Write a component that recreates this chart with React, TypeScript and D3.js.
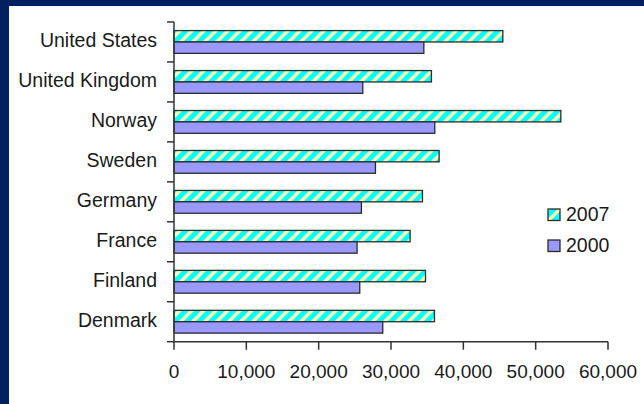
import React from "react";
import * as d3 from "d3";

const countries = [
  "United States",
  "United Kingdom",
  "Norway",
  "Sweden",
  "Germany",
  "France",
  "Finland",
  "Denmark",
];
const seriesNames = ["2007", "2000"];
const values2007 = [45460, 35590, 53480, 36650, 34350, 32640, 34770, 36010];
const values2000 = [34540, 26100, 36050, 27850, 25910, 25310, 25680, 28860];
const xTicks = [0, 10000, 20000, 30000, 40000, 50000, 60000];

const W = 644;
const H = 404;
const FONT = "'Liberation Sans', Arial, sans-serif";
const AXIS = "#333333";

export default function App() {
  const x = d3.scaleLinear().domain([0, 60000]).range([174, 608]);
  const y = d3
    .scaleBand<string>()
    .domain(countries)
    .range([22, 341.7])
    .paddingInner(0.43)
    .paddingOuter(0.215);
  const ySub = d3
    .scaleBand<string>()
    .domain(seriesNames)
    .range([0, y.bandwidth()]);

  const seriesValues: Record<string, number[]> = {
    "2007": values2007,
    "2000": values2000,
  };
  const fills: Record<string, string> = {
    "2007": "url(#hatch)",
    "2000": "#9999ff",
  };

  const step = y.step();
  const catTicks = d3.range(countries.length + 1).map((i) => 22 + i * step);
  const fmt = d3.format(",");
  const baseY = 341.7;

  return (
    <svg
      width={W}
      height={H}
      style={{ position: "absolute", left: 0, top: 0, display: "block" }}
    >
      <defs>
        <pattern
          id="hatch"
          patternUnits="userSpaceOnUse"
          width={12}
          height={12}
        >
          <rect width={12} height={12} fill="#00ffff" />
          <path
            d="M-3,3 L3,-3 M0,12 L12,0 M9,15 L15,9"
            stroke="#fdffb8"
            strokeWidth={3.4}
          />
        </pattern>
      </defs>
      <rect x={0} y={0} width={W} height={H} fill="#002060" />
      <rect x={9} y={6} width={W - 9} height={H - 6} fill="#ffffff" />

      {/* bars */}
      {countries.map((c, i) => (
        <g key={c} transform={`translate(0,${y(c)})`}>
          {seriesNames.map((s) => (
            <rect
              key={s}
              x={x(0)}
              y={ySub(s)}
              width={x(seriesValues[s][i]) - x(0)}
              height={ySub.bandwidth()}
              fill={fills[s]}
              stroke="#2a2a2a"
              strokeWidth={1.3}
            />
          ))}
        </g>
      ))}

      {/* category axis */}
      <line x1={174} x2={174} y1={22} y2={baseY} stroke={AXIS} strokeWidth={1.5} />
      {catTicks.map((t, i) => (
        <line key={i} x1={167} x2={174} y1={t} y2={t} stroke={AXIS} strokeWidth={1.5} />
      ))}
      {countries.map((c) => (
        <text
          key={c}
          x={157}
          y={(y(c) ?? 0) + y.bandwidth() / 2 - 1.5}
          textAnchor="end"
          dominantBaseline="central"
          fontFamily={FONT}
          fontSize={19.5}
          fill="#1a1a1a"
        >
          {c}
        </text>
      ))}

      {/* value axis */}
      <line x1={174} x2={608} y1={baseY} y2={baseY} stroke={AXIS} strokeWidth={1.5} />
      {xTicks.map((t) => (
        <g key={t}>
          <line x1={x(t)} x2={x(t)} y1={baseY} y2={baseY + 8} stroke={AXIS} strokeWidth={1.5} />
          <text
            x={x(t)}
            y={377.5}
            textAnchor="middle"
            fontFamily={FONT}
            fontSize={19}
            fill="#1a1a1a"
          >
            {fmt(t)}
          </text>
        </g>
      ))}

      {/* legend */}
      {seriesNames.map((s, i) => (
        <g key={s} transform={`translate(548,${209 + i * 31})`}>
          <rect width={12} height={11.5} fill={fills[s]} stroke="#2a2a2a" strokeWidth={1.3} />
          <text
            x={18}
            y={4.5}
            dominantBaseline="central"
            fontFamily={FONT}
            fontSize={19.5}
            fill="#1a1a1a"
          >
            {s}
          </text>
        </g>
      ))}
    </svg>
  );
}
